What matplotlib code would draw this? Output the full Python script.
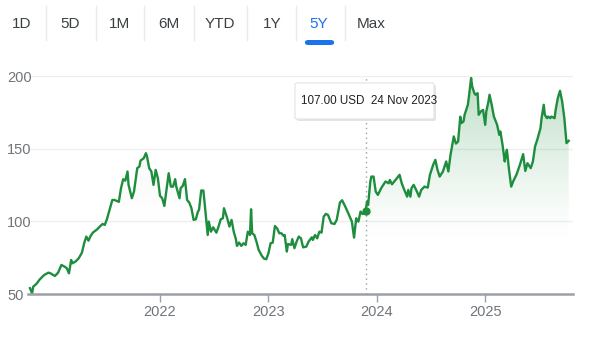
import matplotlib
matplotlib.use("Agg")
import matplotlib.pyplot as plt
import numpy as np
from matplotlib.colors import to_rgb
from matplotlib.patches import FancyBboxPatch

plt.rcParams['font.family'] = ['Liberation Sans', 'DejaVu Sans']

# price series (decimal years, USD)
years = [2020.80, 2020.82, 2020.83, 2020.86, 2020.89, 2020.93, 2020.97, 2020.99, 2021.03, 2021.06,
         2021.09, 2021.12, 2021.14, 2021.16, 2021.18, 2021.19, 2021.22, 2021.25, 2021.28, 2021.30,
         2021.32, 2021.34, 2021.36, 2021.38, 2021.42, 2021.45, 2021.47, 2021.49, 2021.51, 2021.53,
         2021.56, 2021.58, 2021.62, 2021.64, 2021.66, 2021.68, 2021.70, 2021.71, 2021.74, 2021.76,
         2021.79, 2021.81, 2021.82, 2021.85, 2021.87, 2021.88, 2021.90, 2021.92, 2021.94, 2021.96,
         2021.98, 2022.00, 2022.02, 2022.04, 2022.06, 2022.08, 2022.10, 2022.12, 2022.14, 2022.15,
         2022.18, 2022.19, 2022.21, 2022.23, 2022.25, 2022.27, 2022.29, 2022.31, 2022.33, 2022.35,
         2022.36, 2022.38, 2022.40, 2022.42, 2022.44, 2022.45, 2022.47, 2022.49, 2022.52, 2022.54,
         2022.56, 2022.58, 2022.59, 2022.62, 2022.64, 2022.66, 2022.68, 2022.70, 2022.71, 2022.73,
         2022.75, 2022.77, 2022.79, 2022.81, 2022.83, 2022.84, 2022.85, 2022.87, 2022.89, 2022.91,
         2022.94, 2022.96, 2022.98, 2023.00, 2023.02, 2023.04, 2023.06, 2023.08, 2023.10, 2023.12,
         2023.14, 2023.15, 2023.17, 2023.18, 2023.21, 2023.22, 2023.24, 2023.26, 2023.28, 2023.30,
         2023.32, 2023.35, 2023.37, 2023.40, 2023.41, 2023.43, 2023.45, 2023.47, 2023.49, 2023.51,
         2023.53, 2023.55, 2023.58, 2023.61, 2023.63, 2023.66, 2023.68, 2023.71, 2023.73, 2023.75,
         2023.77, 2023.79, 2023.81, 2023.83, 2023.85, 2023.87, 2023.896, 2023.91, 2023.92, 2023.94,
         2023.95, 2023.97, 2023.99, 2024.01, 2024.04, 2024.06, 2024.08, 2024.11, 2024.12, 2024.14,
         2024.16, 2024.18, 2024.21, 2024.23, 2024.25, 2024.28, 2024.29, 2024.31, 2024.32, 2024.34,
         2024.37, 2024.39, 2024.41, 2024.44, 2024.47, 2024.49, 2024.52, 2024.54, 2024.56, 2024.58,
         2024.61, 2024.64, 2024.66, 2024.68, 2024.71, 2024.73, 2024.75, 2024.77, 2024.78, 2024.80,
         2024.81, 2024.84, 2024.85, 2024.87, 2024.88, 2024.90, 2024.91, 2024.93, 2024.94, 2024.96,
         2024.98, 2025.00, 2025.01, 2025.03, 2025.04, 2025.06, 2025.08, 2025.11, 2025.13, 2025.14,
         2025.16, 2025.18, 2025.19, 2025.20, 2025.22, 2025.24, 2025.26, 2025.29, 2025.32, 2025.35,
         2025.37, 2025.39, 2025.40, 2025.42, 2025.44, 2025.46, 2025.48, 2025.51, 2025.52, 2025.54,
         2025.55, 2025.57, 2025.58, 2025.60, 2025.61, 2025.64, 2025.65, 2025.67, 2025.69, 2025.71,
         2025.73, 2025.75, 2025.77]
prices = [54, 50.5, 55, 57, 60, 63, 64.7, 64.2, 62.4, 64.7,
          70, 68.8, 67.7, 64.2, 73.4, 71.1, 72.3, 74.6, 78.5, 84.9,
          89.5, 86.7, 90, 92.2, 94.5, 96.8, 98.2, 97.5, 101.4, 106.7,
          114.7, 114.7, 113.4, 122.8, 129, 128, 134.3, 125, 115.9, 120.5,
          136.6, 137.7, 141.8, 143.4, 146.9, 144.6, 136.6, 134.3, 125.1, 135.4,
          129.7, 117.5, 115.9, 110.6, 121.6, 133.1, 123.9, 123.9, 129, 123.9,
          115.9, 122.8, 124.4, 129, 114.7, 112.9, 109, 101, 101.4, 106.7,
          107.9, 121.2, 121.2, 105.6, 90.6, 99.8, 92.9, 95.9, 92.2, 96.4,
          101.4, 102.1, 109, 102.1, 96.4, 101, 92.9, 87.7, 83.1, 85.4,
          83.1, 84.9, 83.8, 92.9, 90.6, 108.3, 91.8, 90.6, 86, 80.3,
          76.2, 74.3, 73.9, 78, 84.9, 85.4, 96.8, 95.2, 91.8, 91.8,
          90, 90.6, 79.2, 84.4, 83.8, 87.7, 81.5, 86, 89.5, 88.3,
          82.1, 82.6, 86, 89, 87.2, 90.6, 88.3, 92.9, 92.2, 103.3,
          105.1, 104.4, 98.7, 98.2, 101, 113, 114.5, 110, 106.7, 103.3,
          99.8, 88.8, 102.1, 99.8, 106.7, 105, 107.0, 113.6, 111.3, 127.4,
          130.8, 130.8, 120.5, 118.2, 122.8, 125.1, 127.4, 126.2, 128.5, 125.5,
          127.4, 129.2, 132, 126.2, 122.3, 117, 121.6, 117, 122.8, 125.1,
          120.5, 117, 121.6, 123.9, 123.2, 132, 138.9, 142.3, 135.4, 130.8,
          134.3, 141.2, 134.3, 145.7, 158.4, 153.5, 154.9, 172, 167.6, 168.7,
          173.3, 180.2, 185.9, 198.6, 192.8, 188.2, 187.1, 188.2, 173.3, 175.6,
          176.7, 166.4, 175.6, 182.5, 187.1, 180.2, 172.1, 166.4, 159.5, 161.8,
          152.6, 141.2, 145.7, 149.2, 135.4, 123.9, 127.8, 132.4, 138.9, 146.2,
          134.7, 140, 138.9, 136.6, 141.2, 151.5, 156.1, 164.1, 171, 180.2,
          173.3, 171, 172.1, 171, 172.1, 171, 176.7, 184.8, 189.8, 182.5,
          171, 153.8, 155.4]

hover_year = 2023.896
hover_price = 107.00
hover_text = "107.00 USD  24 Nov 2023"

ranges = ["1D", "5D", "1M", "6M", "YTD", "1Y", "5Y", "Max"]
active_range = "5Y"
year_ticks = [2022, 2023, 2024, 2025]
price_ticks = [50, 100, 150, 200]

green = "#1e8e3e"
grey_txt = "#70757a"
W, H = 600, 338

fig = plt.figure(figsize=(6, 3.38), dpi=100)
fig.patch.set_facecolor("white")
ax = fig.add_axes([28 / W, 44 / H, 545 / W, 218 / H])
x0, x1 = 2020.782, 2025.81

# gradient fill under the line, fading out towards ~90 and stronger right of the cursor
fill = ax.fill_between(years, prices, 50, color="none", lw=0)
clip = fill.get_paths()[0]
yy = np.linspace(50, 200, 256).reshape(-1, 1)
g = np.clip((yy - 85) / 115, 0, 1) ** 1.3
for (ea, eb, amax) in [(x0, hover_year, 0.08), (hover_year, x1, 0.30)]:
    rgba = np.zeros((256, 1, 4))
    rgba[..., :3] = to_rgb(green)
    rgba[..., 3] = amax * g
    im = ax.imshow(rgba, extent=[ea, eb, 50, 200], origin="lower", aspect="auto",
                   interpolation="bilinear", zorder=1)
    im.set_clip_path(clip, transform=ax.transData)

ax.plot(years, prices, color=green, lw=1.7, zorder=3, solid_joinstyle="round")
ax.plot([hover_year, hover_year], [50, 200], color="#9aa0a6", lw=1, ls=(0, (1, 2.5)), zorder=2)
ax.plot([hover_year], [hover_price], "o", color=green, ms=5, zorder=4)

ax.set_xlim(x0, x1)
ax.set_ylim(50, 200)
for s in ["top", "right", "left"]:
    ax.spines[s].set_visible(False)
ax.spines["bottom"].set_color("#9aa0a6")
ax.spines["bottom"].set_linewidth(1.8)
ax.spines["bottom"].set_zorder(5)
ax.set_yticks(price_ticks)
ax.set_yticklabels([str(p) for p in price_ticks], ha="left")
ax.tick_params(axis="y", length=0, pad=15, labelsize=10.5, labelcolor=grey_txt)
ax.set_xticks(year_ticks)
ax.set_xticklabels([str(y) for y in year_ticks])
ax.tick_params(axis="x", length=6, width=1, color="#9aa0a6", pad=2, labelsize=10.5,
               labelcolor=grey_txt)
for yv in price_ticks[1:]:
    ax.axhline(yv, color="#efefef", lw=1, zorder=0)

def fx(px):
    return px / W

def fy(py):
    return 1 - py / H

# tooltip
shadow = FancyBboxPatch((fx(297), fy(121)), 139 / W, 36 / H, boxstyle="round,pad=0,rounding_size=0.004",
                        transform=fig.transFigure, facecolor="#e4e4e4", edgecolor="none", zorder=5)
box = FancyBboxPatch((fx(295), fy(119)), 139 / W, 36 / H, boxstyle="round,pad=0,rounding_size=0.004",
                     transform=fig.transFigure, facecolor="white", edgecolor="#e3e3e3", lw=0.8, zorder=6)
fig.patches.extend([shadow, box])
fig.text(fx(301), fy(101), hover_text, fontsize=8.4, color="#202124", va="center", zorder=7)

# range selector
centers = [22, 70, 120, 169, 220, 272, 319, 371]
for lab, cx in zip(ranges, centers):
    col = "#1a73e8" if lab == active_range else "#3c4043"
    fig.text(fx(cx), fy(24), lab, fontsize=11, color=col, ha="center", va="center")
for sx in [46, 96, 144, 194, 247, 296, 345]:
    fig.add_artist(plt.Line2D([fx(sx), fx(sx)], [fy(6), fy(40)], transform=fig.transFigure,
                              color="#e8eaed", lw=1))
fig.patches.append(FancyBboxPatch((fx(305), fy(45)), 29 / W, 5 / H,
                                  boxstyle="round,pad=0,rounding_size=0.006",
                                  transform=fig.transFigure, facecolor="#1a73e8", edgecolor="none"))

fig.savefig("out.png", dpi=100)
